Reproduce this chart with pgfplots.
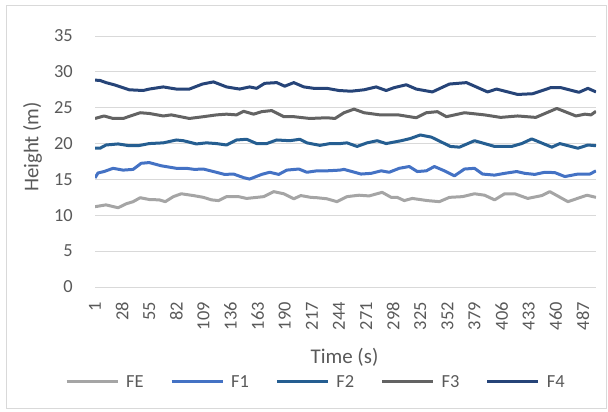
\documentclass[border=0pt]{standalone}
\usepackage{fontspec}
\setmainfont{Carlito}
\usepackage{pgfplots}
\pgfplotsset{compat=1.18}
\definecolor{cFE}{HTML}{A5A5A5}
\definecolor{cF1}{HTML}{4472C4}
\definecolor{cF2}{HTML}{255E91}
\definecolor{cF3}{HTML}{636363}
\definecolor{cF4}{HTML}{264478}
\definecolor{txt}{HTML}{595959}
\definecolor{gridc}{HTML}{D9D9D9}

\begin{document}
\begin{tikzpicture}
\begin{axis}[
  at={(95bp,125bp)}, anchor=south west,
  scale only axis, width=501bp, height=251bp,
  xmin=1, xmax=500, ymin=0, ymax=35,
  xtick={1,28,...,487}, ytick={0,5,...,35},
  axis line style={draw=none},
  major tick length=0pt,
  ymajorgrids, major grid style={gridc, line width=1bp},
  tick label style={font=\fontsize{18.5}{20}\selectfont, text=txt, inner sep=0pt},
  /pgf/number format/assume math mode=true,
  xticklabel style={rotate=90, anchor=east},
  yticklabel style={anchor=east},
  xticklabel shift=15bp, yticklabel shift=22bp,
  label style={font=\fontsize{21}{24}\selectfont, text=txt},
  xlabel={Time (s)}, ylabel={Height (m)},
  xlabel style={at={(rel axis cs:0.498,-0.279)}, anchor=center},
  ylabel style={at={(rel axis cs:-0.1248,0.558)}, anchor=center},
  legend columns=5,
  legend style={at={(rel axis cs:0.439,-0.378)}, anchor=center, draw=none, fill=none,
    font=\fontsize{18.5}{20}\selectfont, text=txt, inner sep=0pt, nodes={inner sep=0pt},
    /tikz/every odd column/.append style={column sep=7bp},
    /tikz/every even column/.append style={column sep=26.5bp}},
  legend image code/.code={\draw[#1, line width=3bp] (0bp,0bp) -- (51bp,0bp);},
  every axis plot/.append style={line width=3bp, line join=round, mark=none},
]
\addplot[cFE] table {
1 11.2
12 11.45
24 11.05
32 11.6
39 11.9
46 12.45
55 12.2
65 12.15
71 11.9
79 12.6
87 13.0
99 12.75
109 12.5
117 12.15
124 12.05
132 12.6
144 12.6
152 12.35
169 12.6
179 13.3
189 13.0
199 12.3
206 12.75
216 12.5
222 12.45
232 12.3
242 11.9
252 12.6
264 12.8
274 12.7
287 13.2
296 12.5
302 12.5
309 12.05
317 12.35
332 12.05
344 11.9
354 12.5
367 12.6
379 13.0
389 12.8
399 12.15
409 13.0
419 13.0
432 12.35
446 12.75
454 13.3
472 11.9
491 12.8
500 12.5
};
\addlegendentry{FE}
\addplot[cF1] table {
1 15.2
4 15.9
10 16.1
19 16.55
29 16.3
39 16.4
47 17.25
55 17.35
67 16.9
82 16.55
92 16.55
100 16.4
109 16.45
119 16.1
130 15.7
139 15.75
149 15.25
155 15.05
167 15.7
175 16.0
184 15.7
192 16.3
204 16.45
212 16.0
222 16.2
232 16.2
245 16.3
249 16.4
266 15.75
276 15.85
286 16.2
294 16.0
304 16.55
314 16.8
322 16.1
331 16.2
339 16.8
349 16.2
359 15.5
369 16.45
379 16.55
387 15.75
399 15.6
409 15.85
421 16.1
429 15.85
439 15.7
449 16.0
459 15.95
469 15.4
482 15.75
494 15.75
500 16.2
};
\addlegendentry{F1}
\addplot[cF2] table {
1 19.35
6 19.35
12 19.8
24 19.95
35 19.7
44 19.7
55 20.0
69 20.1
82 20.5
89 20.4
102 19.95
112 20.1
122 20.0
132 19.8
142 20.5
152 20.6
162 20.0
172 20.0
182 20.5
195 20.4
205 20.6
212 20.1
225 19.75
235 20.0
245 20.0
252 20.1
262 19.6
272 20.1
282 20.4
291 20.0
306 20.4
315 20.7
325 21.2
336 20.9
355 19.6
364 19.5
379 20.4
399 19.6
416 19.6
426 20.0
436 20.65
456 19.5
464 20.0
482 19.35
492 19.8
500 19.7
};
\addlegendentry{F2}
\addplot[cF3] table {
1 23.5
10 23.85
19 23.5
29 23.5
46 24.3
55 24.2
69 23.85
77 24.0
95 23.5
109 23.75
122 24.0
132 24.1
142 24.0
149 24.5
159 24.1
167 24.45
177 24.6
189 23.75
199 23.75
215 23.5
232 23.6
240 23.5
249 24.3
259 24.8
269 24.3
285 24.0
303 24.0
321 23.6
331 24.3
342 24.45
351 23.75
369 24.3
389 24.0
405 23.65
422 23.85
440 23.65
461 24.9
480 23.85
489 24.1
495 24.0
500 24.5
};
\addlegendentry{F3}
\addplot[cF4] table {
1 28.85
6 28.8
12 28.5
20 28.2
35 27.5
49 27.4
55 27.6
69 27.9
82 27.6
95 27.6
108 28.3
119 28.6
132 27.9
145 27.6
155 27.9
162 27.7
170 28.4
182 28.5
190 28.0
199 28.5
209 27.9
219 27.7
232 27.7
244 27.4
256 27.3
269 27.5
281 27.9
291 27.4
299 27.8
311 28.2
321 27.6
337 27.2
354 28.3
371 28.5
392 27.2
401 27.6
422 26.85
437 26.95
455 27.8
465 27.8
483 27.15
492 27.7
500 27.2
};
\addlegendentry{F4}
\end{axis}
\draw[gridc, line width=1bp] (6bp,3bp) rectangle (606bp,406bp);
\pgfresetboundingbox
\path[use as bounding box] (0,0) rectangle (608bp,412bp);
\end{tikzpicture}
\end{document}
